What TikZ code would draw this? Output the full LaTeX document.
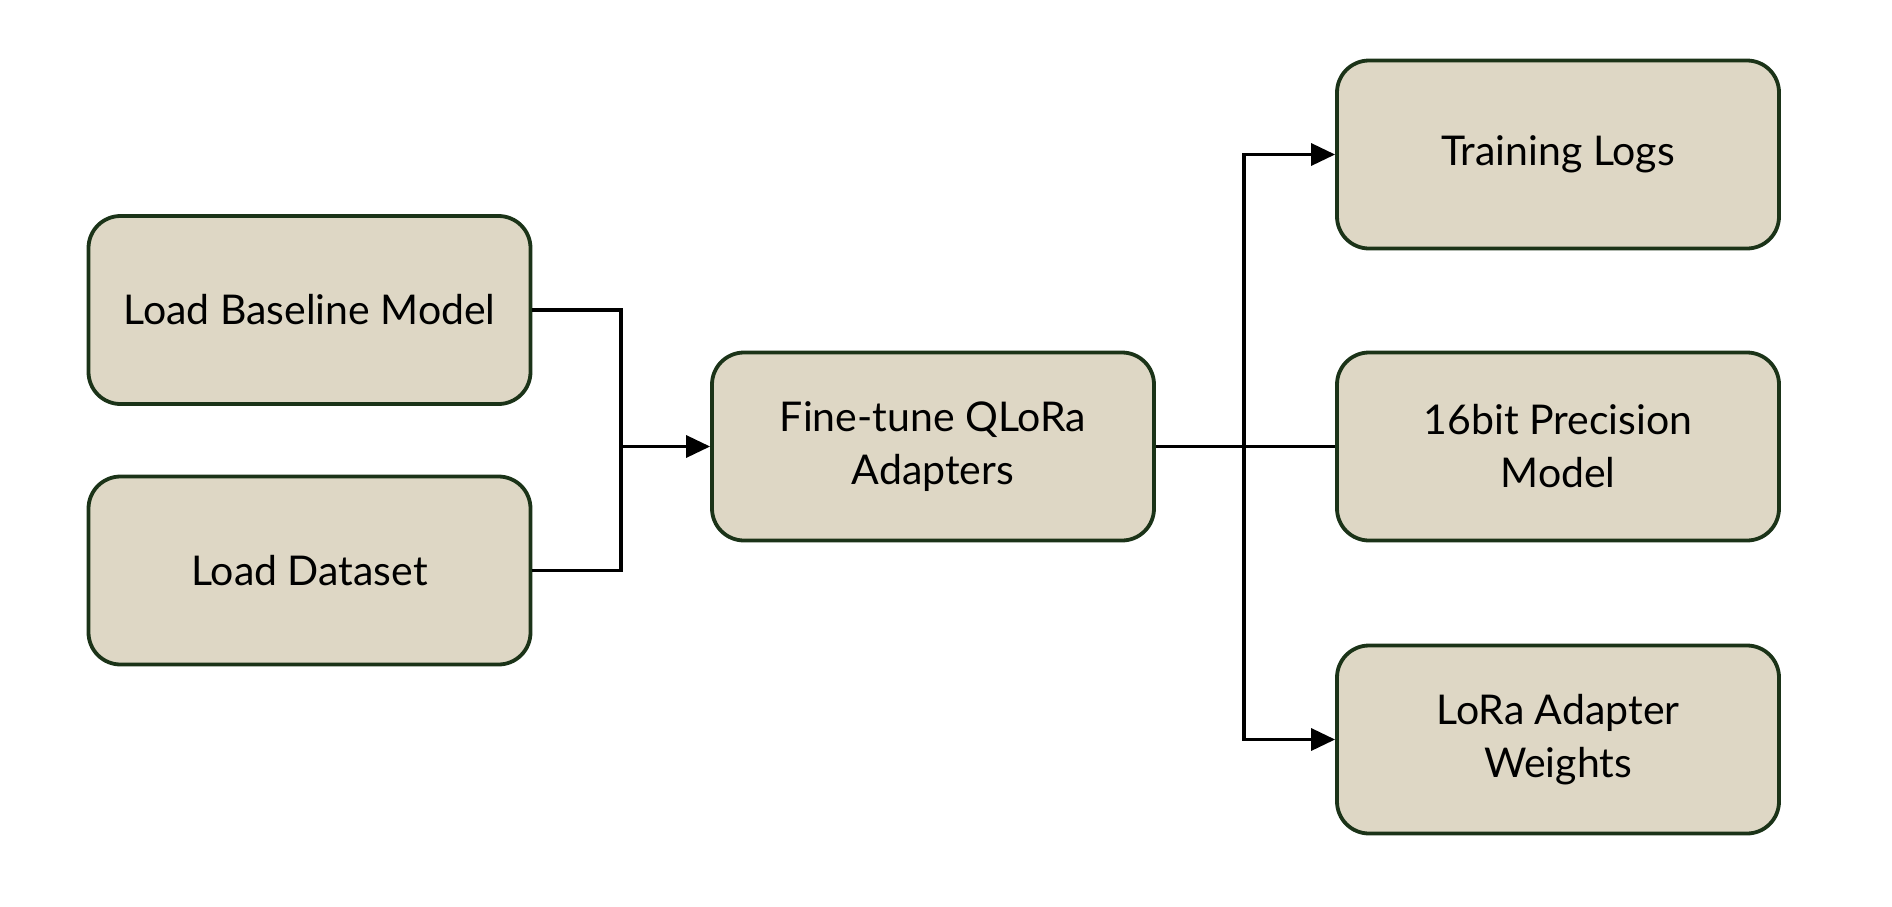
\documentclass[tikz,border=0pt]{standalone}
\usepackage{fontspec}
\setmainfont{Lato}
\usetikzlibrary{arrows.meta}
\definecolor{boxfill}{HTML}{DED7C5}
\definecolor{boxline}{HTML}{1B3318}
\tikzset{
  stepbox/.style={draw=boxline, fill=boxfill, line width=1.9pt, rounded corners=16pt,
    minimum width=221pt, minimum height=94pt, align=center, font=\fontsize{20.5}{26.5}\selectfont, inner sep=2pt},
  conn/.style={draw=black, line width=1.7pt},
  arr/.style={conn, -{Triangle[length=12pt,width=11pt]}}
}
\begin{document}
\begin{tikzpicture}[x=0.5pt,y=-0.5pt]
\useasboundingbox (0,0) rectangle (1892,906);
\node[stepbox] (lbm) at (309.5,310) {Load Baseline Model};
\node[stepbox] (ld) at (309.5,570.5) {Load Dataset};
\node[stepbox] (ft) at (933,446.5) {Fine-tune QLoRa\\Adapters};
\node[stepbox] (tl) at (1558,154.5) {Training Logs};
\node[stepbox] (pm) at (1558,446.5) {16bit Precision\\Model};
\node[stepbox] (lw) at (1558,739.5) {LoRa Adapter\\Weights};
\coordinate (j1) at (621,446.5);
\coordinate (j2) at (1244,446.5);
\draw[conn] (lbm.east) -| (j1);
\draw[conn] (ld.east) -| (j1);
\draw[arr] (j1) -- (ft.west);
\draw[conn] (ft.east) -- (pm.west);
\draw[arr] (j2) |- (tl.west);
\draw[arr] (j2) |- (lw.west);
\end{tikzpicture}
\end{document}
